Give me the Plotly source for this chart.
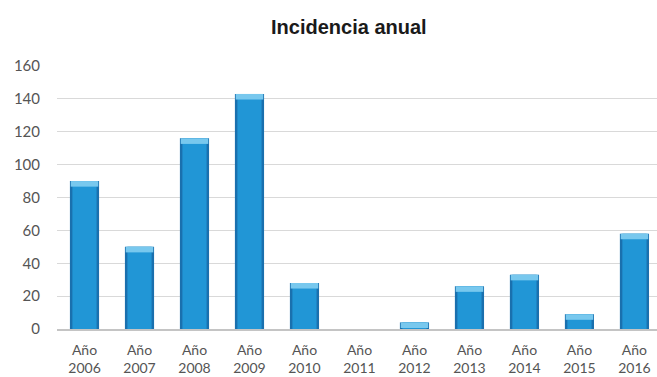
import plotly.graph_objects as go

# Annual incidence counts
years = ["2006", "2007", "2008", "2009", "2010", "2011",
         "2012", "2013", "2014", "2015", "2016"]
cases = [90, 50, 116, 143, 28, 0, 4, 26, 33, 9, 58]
y_ticks = [0, 20, 40, 60, 80, 100, 120, 140, 160]

labels = [f"Año<br>{y}" for y in years]
cap = [min(v, 3.4) for v in cases]
cap_base = [v - c for v, c in zip(cases, cap)]

fig = go.Figure()
# darker body gives the bevelled edge
fig.add_bar(x=labels, y=cases, width=0.53,
            marker=dict(color="#1a70ae", line=dict(width=0)),
            hoverinfo="skip")
# brighter inner face
fig.add_bar(x=labels, y=cases, width=0.44,
            marker=dict(color="#2196d6", line=dict(width=0)),
            hovertemplate="%{x}: %{y}<extra></extra>")
# light top cap
fig.add_bar(x=labels, y=cap, base=cap_base, width=0.5,
            marker=dict(color="#78c8ee", line=dict(width=0)),
            hoverinfo="skip")

fig.update_layout(
    width=657, height=377,
    margin=dict(l=57, r=0, t=66, b=48),
    paper_bgcolor="white", plot_bgcolor="white",
    barmode="overlay", showlegend=False,
    title=dict(text="<b>Incidencia anual</b>", x=0.531, xanchor="center",
               y=0.928, yanchor="middle",
               font=dict(family="Liberation Sans, Arial", size=20, color="#1a1a1a")),
    xaxis=dict(range=[-0.5, 10.41], showgrid=False, showline=True,
               linecolor="#c4c4c4", linewidth=1.5, ticks="",
               tickfont=dict(family="Lato, Open Sans", size=14, color="#555555"),
               ticklabelstandoff=7, automargin=False, fixedrange=True),
    yaxis=dict(range=[0, 160], tickvals=y_ticks, showgrid=True,
               gridcolor="#d9d9d9", gridwidth=1, zeroline=False,
               showline=False, ticks="",
               tickfont=dict(family="Lato, Open Sans", size=15, color="#555555"),
               ticklabelstandoff=16, automargin=False, fixedrange=True),
)

fig.write_html("out.html")
